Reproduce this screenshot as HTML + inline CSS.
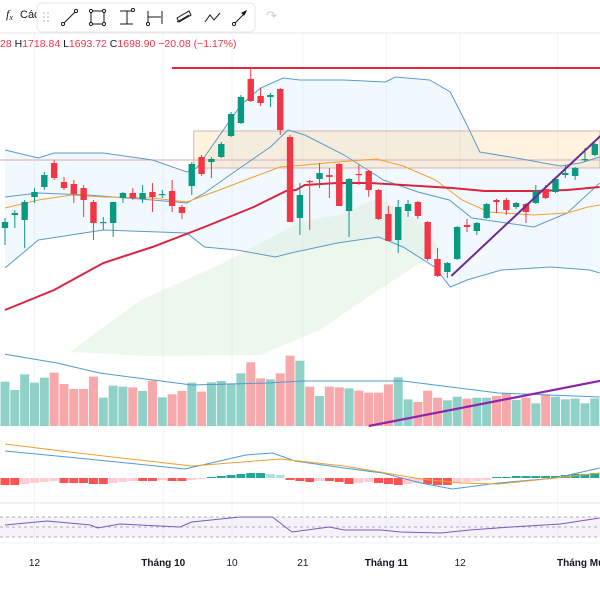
<!DOCTYPE html>
<html><head><meta charset="utf-8">
<style>
html,body{margin:0;padding:0;background:#fff;width:600px;height:600px;overflow:hidden;font-family:"Liberation Sans",sans-serif;}
svg{display:block}
</style></head>
<body>
<svg id="chart" width="600" height="600" viewBox="0 0 600 600" xmlns="http://www.w3.org/2000/svg">
  <rect x="0" y="0" width="600" height="600" fill="#ffffff"/>
  <g id="grid"></g>
  <line x1="0" y1="33" x2="600" y2="33" stroke="#e6e8ee" stroke-width="1"/>
  <line x1="0" y1="503" x2="600" y2="503" stroke="#e0e3eb" stroke-width="1"/>
  <line x1="0" y1="543" x2="600" y2="543" stroke="#eef0f3" stroke-width="1"/>
  <g id="overlays"></g>
  <g id="candles"></g>
  <g id="volume"></g>
  <g id="macd"></g>
  <g id="rsi"></g>
  <g id="xaxis"></g>

  <text x="6" y="18" font-size="12" fill="#131722" font-family="Liberation Serif, serif" font-style="italic">f<tspan font-size="8" dy="2">x</tspan></text>
  <text x="20" y="18" font-size="11" fill="#131722">Các</text>
  <g>
    <rect x="37" y="3" width="218" height="29" rx="5" fill="#fff" stroke="#e4e6ea"/>
    <g fill="#c8cbd3">
      <circle cx="44" cy="13" r="1"/><circle cx="48" cy="13" r="1"/><circle cx="44" cy="17" r="1"/><circle cx="48" cy="17" r="1"/><circle cx="44" cy="21" r="1"/><circle cx="48" cy="21" r="1"/>
    </g>
    <g stroke="#131722" stroke-width="1" fill="none">
      <g><line x1="63" y1="24" x2="76" y2="11"/><circle cx="63" cy="24" r="1.6" fill="#fff"/><circle cx="76" cy="11" r="1.6" fill="#fff"/></g>
      <g><rect x="91" y="11" width="13" height="13"/><circle cx="91" cy="11" r="1.6" fill="#fff"/><circle cx="104" cy="11" r="1.6" fill="#fff"/><circle cx="91" cy="24" r="1.6" fill="#fff"/><circle cx="104" cy="24" r="1.6" fill="#fff"/></g>
      <g><line x1="120" y1="11" x2="133" y2="11"/><line x1="120" y1="24" x2="133" y2="24"/><line x1="127" y1="11" x2="127" y2="24"/><circle cx="133" cy="10" r="1.6" fill="#fff"/></g>
      <g><line x1="148" y1="11" x2="148" y2="24"/><line x1="162" y1="11" x2="162" y2="24"/><line x1="148" y1="17" x2="161" y2="17"/><circle cx="148" cy="24" r="1.6" fill="#fff"/></g>
      <g><path d="M177 18 L189 11 L191 15 L179 22 Z M177 22 L189 15"/></g>
      <g><polyline points="205,22 210,15 214,20 220,13"/></g>
      <g><line x1="234" y1="24" x2="246" y2="12"/><path d="M246 11 L242 13 L244 15 Z" fill="#131722"/><circle cx="234" cy="24" r="1.6" fill="#fff"/></g>
    </g>
  </g>
  <text x="266" y="20" font-size="13" fill="#c9ccd3">↷</text>
  <text x="0" y="47" font-size="10.5"><tspan fill="#f23645">28 </tspan><tspan fill="#131722">H</tspan><tspan fill="#f23645">1718.84 </tspan><tspan fill="#131722">L</tspan><tspan fill="#f23645">1693.72 </tspan><tspan fill="#131722">C</tspan><tspan fill="#f23645">1698.90 −20.08 (−1.17%)</tspan></text>
</svg>
<script>
// ===== data =====
const opens  = [1617,1630,1625,1648,1658,1682,1663,1661,1657,1643,1622,1622,1647,1652,1646,1653,1650,1654,1638,1659,1688,1683,1688,1709,1722,1766,1749,1748,1756,1708,1627,1664,1666,1670,1681,1634,1671,1674,1655,1631,1605,1634,1643,1623,1586,1573,1586,1620,1614,1627,1645,1645,1638,1641,1642,1656,1653,1670,1669,1685,1690];
const highs  = [1627,1635,1645,1657,1673,1685,1668,1665,1660,1645,1628,1643,1653,1657,1660,1662,1655,1665,1640,1683,1690,1688,1703,1733,1750,1777,1757,1752,1757,1710,1662,1665,1682,1677,1682,1667,1680,1675,1656,1639,1645,1645,1644,1624,1597,1583,1619,1626,1623,1642,1646,1647,1643,1642,1660,1660,1667,1680,1678,1697,1702];
const lows   = [1600,1617,1597,1642,1655,1665,1655,1642,1628,1605,1615,1608,1642,1645,1642,1633,1647,1633,1626,1650,1669,1667,1687,1708,1721,1743,1739,1738,1710,1623,1610,1615,1657,1647,1639,1608,1660,1648,1625,1604,1592,1628,1626,1584,1568,1567,1585,1613,1610,1626,1632,1630,1636,1622,1641,1646,1652,1667,1665,1683,1689];
const closes = [1623,1632,1643,1653,1670,1667,1657,1651,1645,1622,1623,1643,1652,1647,1652,1648,1651,1639,1632,1681,1671,1686,1701,1731,1748,1744,1742,1750,1715,1623,1650,1663,1672,1668,1639,1666,1670,1655,1626,1604,1638,1641,1629,1586,1569,1582,1618,1618,1622,1641,1643,1635,1642,1633,1654,1647,1666,1672,1677,1686,1701];
const volumes = [133,108,155,130,145,160,126,111,111,148,85,121,118,116,105,136,86,95,105,130,103,131,135,128,158,191,143,140,158,211,196,118,90,118,116,113,106,100,100,125,146,80,72,106,85,77,88,82,85,85,90,98,78,85,68,95,88,80,82,68,83];
const macdHist = [-7,-7,-6,-5,-4,-3,-5,-5,-5,-6,-6,-5,-4,-3,-3,-3,-2,-3,-3,-2,-1,1,2,3,4,5,5,4,3,-2,-3,-4,-3,-3,-4,-6,-5,-4,-5,-6,-7,-6,-5,-6,-7,-7,-5,-4,-3,-2,1,1,2,2,2,2,2,3,4,4,5];
// overlay series: [bar index, value]
const bbUpper = [[0,1695],[3.4,1687],[5,1692],[10,1692],[15,1685],[18.5,1673],[19.5,1677],[21.5,1705],[24,1740],[26,1757],[28.3,1767],[30,1765],[34.5,1765],[38.7,1763],[39.7,1768],[43.2,1765],[45.3,1753],[47,1720],[48.3,1693],[52,1687],[56.5,1679],[58.5,1682],[60.5,1688]];
const bbMid   = [[0,1648],[3.4,1652],[8.4,1650],[15,1645],[18.5,1642],[20.3,1652],[23.6,1675],[27,1698],[28.8,1715],[30.5,1710],[34.5,1690],[38.5,1665],[42,1653],[45.2,1645],[47.5,1627],[53.8,1618],[57.2,1632],[60.5,1662]];
const bbLower = [[0,1577],[3.4,1605],[10,1615],[18.5,1612],[20.3,1598],[23.6,1595],[27.5,1588],[29.5,1593],[30.5,1595],[33.8,1602],[38,1608],[40.5,1598],[43.7,1578],[45.3,1558],[47,1565],[50.5,1575],[55.5,1578],[59.5,1575],[60.5,1572]];
const smaOrange = [[0,1637],[3.4,1645],[6.8,1650],[10,1648],[15,1647],[18.5,1643],[21.8,1655],[25,1667],[28,1678],[30.5,1680],[33.8,1683],[37.8,1686],[40.5,1679],[43.8,1665],[46.5,1645],[49.2,1633],[53.8,1630],[57.2,1632],[59.3,1638],[60.5,1640]];
const maRed = [[0,1535],[5,1555],[10,1582],[15,1598],[20.3,1618],[25.3,1638],[28.6,1654],[29.6,1655],[30.5,1660],[33.8,1662],[37.2,1662],[40.5,1660],[45.5,1657],[48.8,1654],[54,1654],[57.2,1655],[60.5,1658]];
const cloudTop = [[6.6,1493],[13.8,1545],[21.8,1580],[30,1623],[34,1630],[38,1647],[42,1625],[44.3,1595]];
const cloudBottom = [[44.3,1595],[38,1555],[32,1515],[26,1490],[14.7,1489],[6.6,1493]];
const volMA = [[0,215],[5.3,189],[9.6,159],[19,123],[26.7,129],[30.3,135],[40.5,135],[50.2,99],[60.5,87]];
const macdLine = [[0,81],[7.4,60],[18.3,27],[24.5,69],[27.2,75],[29.5,51],[34.5,30],[38.4,15],[42.3,-15],[45.5,-33],[50.2,-15],[56,0],[60.5,30]];
const signalLine = [[0,102],[7.4,75],[19,36],[28,57],[34.5,36],[42.3,-3],[46.3,-15],[50.2,-18],[56,0],[60.5,15]];
const rsiValues = [[0,54],[4.3,62],[8.7,54],[9.4,48],[11.7,56],[17.8,50],[19,60],[23.9,70],[27.2,70],[29.2,40],[33,50],[34.5,44],[38.2,44],[40.2,40],[44.3,38],[47.3,44],[51.5,50],[56.5,56],[60.5,68]];
const xTickIdx = [3, 16.1, 23.1, 30.3, 38.8, 46.3, 56.2];
const xTickLabels = ["12","Tháng 10","10","21","Tháng 11","12","Tháng Mười"];
const xTickBold = [false,true,false,false,true,false,true];
const resistancePrice = 1777;
const zoneTop = 1714, zoneBottom = 1677, zoneStartIdx = 19.2;
const levelPrice = 1685;
const trendStart = [45.4, 1569], trendEnd = [61, 1713];
const volTrendStart = [37, 0], volTrendEnd = [61, 138];

// ===== scales =====
const NS = "http://www.w3.org/2000/svg";
const xs = i => 5 + 9.83 * i;
const ys = p => 1845 - p;
const yVol = v => 426 - v / 3;
const yMacd = v => 478 - v / 3;
const yMacdHist = v => 478 - v;
const yRsi = v => 527 - (v - 50) * 0.5;

function mk(tag, attrs, parent) {
  const el = document.createElementNS(NS, tag);
  for (const k in attrs) el.setAttribute(k, attrs[k]);
  parent.appendChild(el);
  return el;
}
function pathOf(arr, yf) { return arr.map((d, k) => (k ? "L" : "M") + xs(d[0]).toFixed(1) + " " + yf(d[1]).toFixed(1)).join(" "); }

const grid = document.getElementById("grid");
xTickIdx.forEach(i => {
  const l = mk("line", {x1: xs(i), x2: xs(i), y1: 33, y2: 543, stroke: "#f2f3f5", "stroke-width": 1}, grid);
  
  
});

// overlays
const ov = document.getElementById("overlays");
let bbFill = pathOf(bbUpper, ys) + " " + bbLower.slice().reverse().map(d => "L" + xs(d[0]).toFixed(1) + " " + ys(d[1]).toFixed(1)).join(" ") + " Z";
const bf = mk("path", {d: bbFill, fill: "rgba(33,150,243,0.06)"}, ov);


const cl = mk("path", {d: pathOf(cloudTop, ys) + " " + cloudBottom.map(d => "L" + xs(d[0]).toFixed(1) + " " + ys(d[1]).toFixed(1)).join(" ") + " Z", fill: "rgba(200,230,195,0.3)"}, ov);


const zone = mk("rect", {x: xs(zoneStartIdx), y: ys(zoneTop), width: 600 - xs(zoneStartIdx), height: ys(zoneBottom) - ys(zoneTop), fill: "rgba(255,183,77,0.18)", stroke: "#d9b3b8", "stroke-width": 1}, ov);


const lvl = mk("line", {x1: 0, x2: 600, y1: ys(levelPrice), y2: ys(levelPrice), stroke: "#e0b8c4", "stroke-width": 1.2}, ov);


const lines = [[bbUpper, "#5b9bc9", 1, "bollinger-upper"], [bbLower, "#5b9bc9", 1, "bollinger-lower"], [bbMid, "#5b9bc9", 1, "bollinger-middle"], [smaOrange, "#f0a030", 1, "sma-orange"], [maRed, "#d8253f", 2, "ma-red"]];
lines.forEach(s => {
  const p = mk("path", {d: pathOf(s[0], ys), fill: "none", stroke: s[1], "stroke-width": s[2]}, ov);
  
  
});
const res = mk("line", {x1: 172, x2: 600, y1: ys(resistancePrice), y2: ys(resistancePrice), stroke: "#e0283e", "stroke-width": 2}, ov);



// candles
const cg = document.getElementById("candles");
opens.forEach((o, i) => {
  const c = closes[i], up = c >= o, col = up ? "#089981" : "#f23645", x = xs(i);
  const w = mk("line", {x1: x, x2: x, y1: ys(highs[i]), y2: ys(lows[i]), stroke: col, "stroke-width": 1}, cg);
  
  
  const top = ys(Math.max(o, c)), h = Math.max(1.2, Math.abs(o - c));
  const b = mk("rect", {x: x - 3.2, y: top, width: 6.4, height: h, fill: col}, cg);
  
  
});
const tr = mk("line", {x1: xs(trendStart[0]), y1: ys(trendStart[1]), x2: xs(trendEnd[0]), y2: ys(trendEnd[1]), stroke: "#6a2c91", "stroke-width": 2}, cg);



// volume
const vg = document.getElementById("volume");
volumes.forEach((v, i) => {
  const up = closes[i] >= opens[i];
  const r = mk("rect", {x: xs(i) - 4.5, y: yVol(v), width: 9, height: 426 - yVol(v), fill: up ? "#8fd1c7" : "#f7a8ab"}, vg);
  
  
});
const vm = mk("path", {d: pathOf(volMA, yVol), fill: "none", stroke: "#4e9ccf", "stroke-width": 1}, vg);


const vt = mk("line", {x1: xs(volTrendStart[0]), y1: yVol(volTrendStart[1]), x2: xs(volTrendEnd[0]), y2: yVol(volTrendEnd[1]), stroke: "#8e24aa", "stroke-width": 2.2}, vg);



// macd
const mg = document.getElementById("macd");
macdHist.forEach((v, i) => {
  const prev = i ? macdHist[i - 1] : v;
  let col;
  if (v >= 0) col = v >= prev ? "#26a69a" : "#b2dfdb"; else col = v <= prev ? "#ff5252" : "#ffcdd2";
  const y = v >= 0 ? yMacdHist(v) : 478;
  const r = mk("rect", {x: xs(i) - 4.5, y: y, width: 9, height: Math.max(1, Math.abs(v)), fill: col}, mg);
  
  
});
const ml = mk("path", {d: pathOf(macdLine, yMacd), fill: "none", stroke: "#4e9ccf", "stroke-width": 1}, mg);


const sl = mk("path", {d: pathOf(signalLine, yMacd), fill: "none", stroke: "#f0a030", "stroke-width": 1}, mg);



// rsi
const rg = document.getElementById("rsi");
const band = mk("rect", {x: 0, y: yRsi(70), width: 600, height: yRsi(30) - yRsi(70), fill: "rgba(126,87,194,0.08)"}, rg);


[70, 50, 30].forEach(l => {
  const d = mk("line", {x1: 0, x2: 600, y1: yRsi(l), y2: yRsi(l), stroke: "#9598a1", "stroke-width": 0.8, "stroke-dasharray": "3,3"}, rg);
  
  
});
const rl = mk("path", {d: pathOf(rsiValues, yRsi), fill: "none", stroke: "#7e57c2", "stroke-width": 1}, rg);



// x axis
const xg = document.getElementById("xaxis");
xTickLabels.forEach((t, k) => {
  const last = k === xTickLabels.length - 1;
  const tx = mk("text", {x: last ? 557 : xs(xTickIdx[k]), y: 566, "font-size": 10, "text-anchor": last ? "start" : "middle", fill: "#131722", "font-weight": xTickBold[k] ? "bold" : "normal"}, xg);
  tx.textContent = t;
  
  
});
</script>
</body></html>
